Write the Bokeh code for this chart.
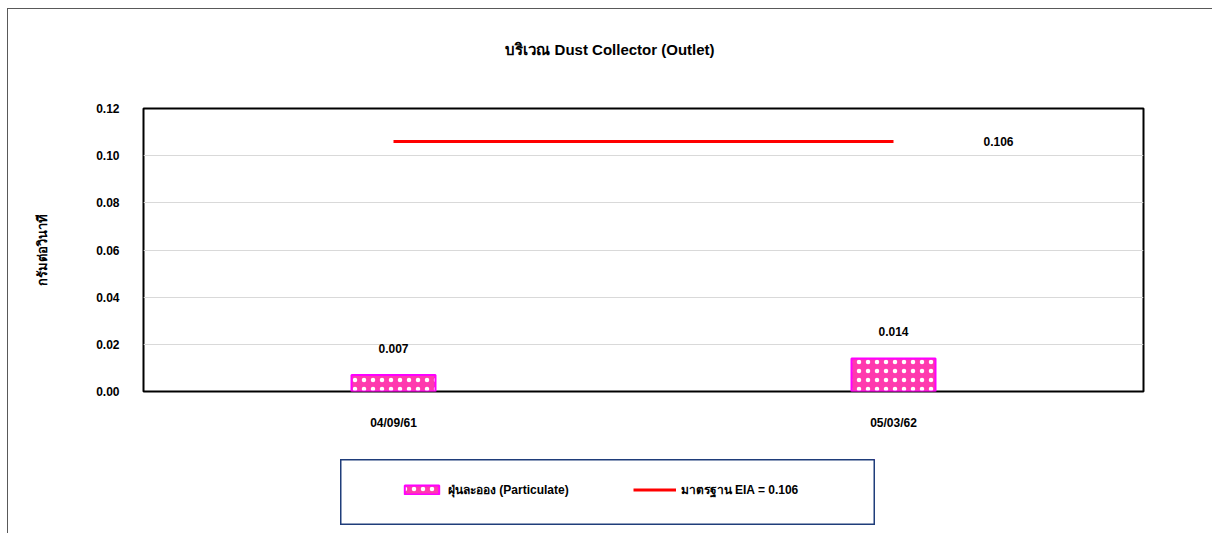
from bokeh.plotting import figure
from bokeh.layouts import column, row
from bokeh.models import (FactorRange, Range1d, FixedTicker, NumeralTickFormatter,
                          Legend, LegendItem, Spacer, Div)
from bokeh.core.properties import value
from bokeh.embed import file_html
from bokeh.resources import INLINE

# sampling dates and measured particulate emission (g/s)
title_text = "บริเวณ Dust Collector (Outlet)"
dates = ["04/09/61", "05/03/62"]
particulate = [0.007, 0.014]
eia_limit = [0.106, 0.106]
y_ticks = [0.0, 0.02, 0.04, 0.06, 0.08, 0.10, 0.12]

FONT = "Liberation Sans, Arial, sans-serif"
BAR_STYLE = dict(fill_color="#FF3AAE", line_color="#FF00FF", line_width=2,
                 hatch_pattern="dot", hatch_color="white", hatch_scale=9, hatch_weight=3)
LINE_STYLE = dict(line_color="#FF0000", line_width=3)

# chart title across the full width
title = Div(text=f'<div style="width:1204px;text-align:center;font-family:{FONT};font-size:15px;'
                 f'font-weight:bold;color:black;padding-top:32px;line-height:18px">{title_text}</div>',
            width=1204, height=60, margin=0)

p = figure(width=1204, height=390, x_range=FactorRange(*dates), y_range=Range1d(0, 0.12),
           output_backend="svg", toolbar_location=None,
           min_border_left=135, min_border_right=69, min_border_top=39, min_border_bottom=68)
p.outline_line_color = "black"
p.outline_line_width = 2

# axes
p.yaxis.ticker = FixedTicker(ticks=y_ticks)
p.yaxis.formatter = NumeralTickFormatter(format="0.00")
p.yaxis.axis_label = "กรัมต่อวินาที"
p.yaxis.axis_label_standoff = 43
for ax in (p.xaxis, p.yaxis):
    ax.axis_line_color = None
    ax.major_tick_line_color = None
    ax.minor_tick_line_color = None
    ax.major_label_text_font = FONT
    ax.major_label_text_font_size = "12px"
    ax.major_label_text_font_style = "bold"
    ax.major_label_text_color = "black"
    ax.axis_label_text_font = FONT
    ax.axis_label_text_font_size = "13px"
    ax.axis_label_text_font_style = "bold"
    ax.axis_label_text_color = "black"
p.yaxis.major_label_standoff = 18
p.xaxis.major_label_standoff = 18
p.xgrid.grid_line_color = None
p.ygrid.grid_line_color = "#D9D9D9"
p.ygrid.grid_line_width = 1

# measured particulate bars with value labels
p.vbar(x=dates, top=particulate, width=0.168, **BAR_STYLE)
p.text(x=dates, y=particulate, text=[f"{v:.3f}" for v in particulate],
       text_font=value(FONT), text_font_size="12px", text_font_style="bold",
       text_align="center", text_baseline="bottom", y_offset=-22, text_color="black")

# EIA standard line
p.line(x=dates, y=eia_limit, **LINE_STYLE)
p.text(x=[dates[-1]], y=[eia_limit[-1]], text=[f"{eia_limit[-1]:.3f}"],
       text_font=value(FONT), text_font_size="12px", text_font_style="bold",
       text_align="center", text_baseline="middle", x_offset=105, text_color="black")

# legend panel below the chart; key renderers sit outside its visible range
lf = figure(width=535, height=66, output_backend="svg", toolbar_location=None,
            min_border=0, x_range=Range1d(0, 1), y_range=Range1d(0, 1))
lf.axis.visible = False
lf.grid.visible = False
lf.outline_line_color = "#1F3D7A"
lf.outline_line_width = 2
bar_key = lf.vbar(x=[5], top=[5], bottom=[4], width=0.1, **BAR_STYLE)
line_key = lf.line(x=[5, 6], y=[5, 5], **LINE_STYLE)
legend = Legend(items=[LegendItem(label="ฝุ่นละออง (Particulate)", renderers=[bar_key]),
                       LegendItem(label=f"มาตรฐาน EIA = {eia_limit[0]}", renderers=[line_key])],
                orientation="horizontal", location=(60, 26), padding=0, margin=0,
                spacing=64, glyph_width=43, glyph_height=11, label_standoff=5,
                label_text_font=FONT, label_text_font_size="12px",
                label_text_font_style="bold", label_text_color="black",
                border_line_alpha=0, background_fill_alpha=0)
lf.add_layout(legend, "center")

layout = column(title, p, row(Spacer(width=332), lf), Spacer(height=10), spacing=0,
                styles={"border-top": "1px solid #595959", "border-left": "1px solid #595959",
                        "margin-top": "8px", "margin-left": "7px"})

open("out.html", "w").write(file_html(layout, INLINE))
